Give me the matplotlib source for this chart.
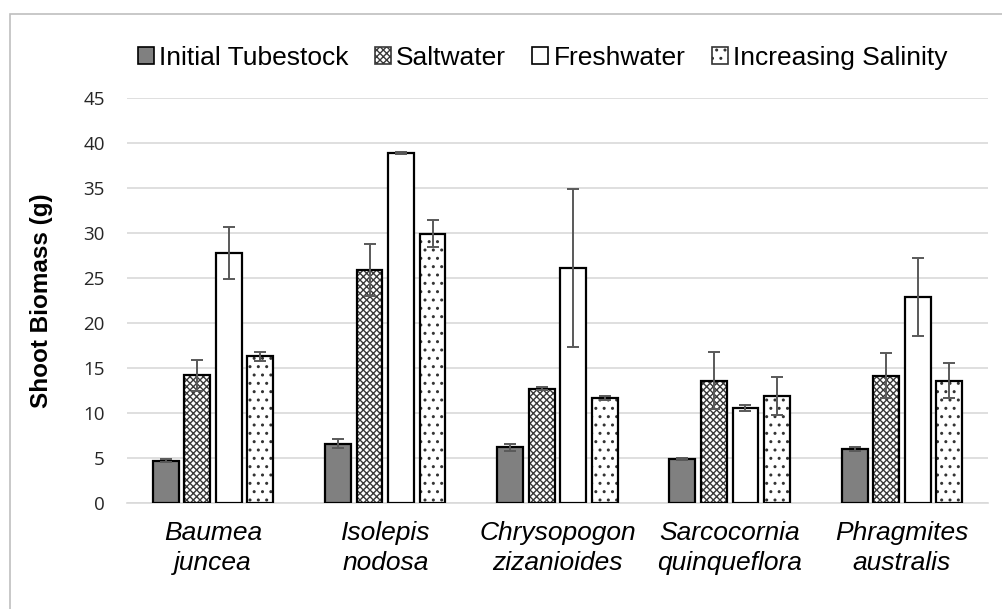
import matplotlib
matplotlib.use("Agg")
import matplotlib.pyplot as plt
import numpy as np
from matplotlib.patches import Patch

species = ["Baumea\njuncea", "Isolepis\nnodosa", "Chrysopogon\nzizanioides",
           "Sarcocornia\nquinqueflora", "Phragmites\naustralis"]
series = ["Initial Tubestock", "Saltwater", "Freshwater", "Increasing Salinity"]

initial = [4.7, 6.6, 6.2, 4.9, 6.0]
initial_err = [0.15, 0.5, 0.4, 0.15, 0.2]
saltwater = [14.2, 25.9, 12.7, 13.6, 14.15]
saltwater_err = [1.7, 2.9, 0.15, 3.2, 2.5]
freshwater = [27.8, 38.85, 26.1, 10.55, 22.9]
freshwater_err = [2.9, 0.1, 8.8, 0.35, 4.35]
increasing = [16.3, 29.9, 11.7, 11.9, 13.6]
increasing_err = [0.5, 1.5, 0.2, 2.1, 1.95]

plt.rcParams['hatch.linewidth'] = 1.0

fig = plt.figure(figsize=(10.03, 6.09), dpi=100)
# light frame round the whole chart (cropped on right and bottom)
fig.patches.append(plt.Rectangle((0.01, -0.1), 1.2, 1.077, transform=fig.transFigure,
                                 fill=False, edgecolor="#bfbfbf", lw=1.2))
ax = fig.add_axes([0.1266, 0.174, 0.8584, 0.665])

x = np.arange(len(species))
step = 0.183
width = 0.15
offsets = [-1.5 * step, -0.5 * step, 0.5 * step, 1.5 * step]

vals = [initial, saltwater, freshwater, increasing]
errs = [initial_err, saltwater_err, freshwater_err, increasing_err]
faces = ["#808080", "white", "white", "white"]
hatches = [None, "xxxxx", None, ".."]
hatch_cols = ["#808080", "#3a3a3a", "white", "#333333"]

for i in range(4):
    pos = x + offsets[i]
    # hatch layer
    ax.bar(pos, vals[i], width, color=faces[i], edgecolor=hatch_cols[i],
           hatch=hatches[i], lw=0, zorder=2)
    # outline
    ax.bar(pos, vals[i], width, fill=False, edgecolor="black", lw=1.6, zorder=3)
    ax.errorbar(pos, vals[i], yerr=errs[i], fmt="none", ecolor="#595959",
                elinewidth=1.4, capsize=4, capthick=1.4, zorder=4)

ax.set_xlim(-0.5, 4.5)
ax.set_ylim(0, 45)
ax.set_yticks(np.arange(0, 46, 5))
ax.yaxis.grid(True, color="#d9d9d9", lw=1.2)
ax.set_axisbelow(True)
for s in ["top", "right", "left"]:
    ax.spines[s].set_visible(False)
ax.spines["bottom"].set_color("#d9d9d9")
ax.spines["bottom"].set_linewidth(1.2)
ax.tick_params(axis="y", length=0, pad=16, labelsize=13.5, labelcolor="#262626")
ax.tick_params(axis="x", length=0, pad=13)
for lab in ax.get_yticklabels():
    lab.set_fontfamily("Open Sans")
ax.set_xticks(x)
ax.set_xticklabels(species, fontstyle="italic", fontsize=19, family="Liberation Sans",
                   linespacing=1.3)
ax.set_ylabel("Shoot Biomass (g)", fontsize=17.5, fontweight="bold",
              family="Liberation Sans", labelpad=22)

handles = [Patch(facecolor="#808080", edgecolor="black", lw=1.2),
           Patch(facecolor="white", edgecolor="#3a3a3a", hatch="xxxxx", lw=1.2),
           Patch(facecolor="white", edgecolor="black", lw=1.2),
           Patch(facecolor="white", edgecolor="#333333", hatch="..", lw=1.2)]
fig.legend(handles, series, loc="center", bbox_to_anchor=(0.541, 0.905), ncol=4,
           frameon=False, prop={"family": "Liberation Sans", "size": 19},
           handlelength=0.6, handleheight=0.6, handletextpad=0.2, columnspacing=1.0)

fig.savefig("out.png", dpi=100)
